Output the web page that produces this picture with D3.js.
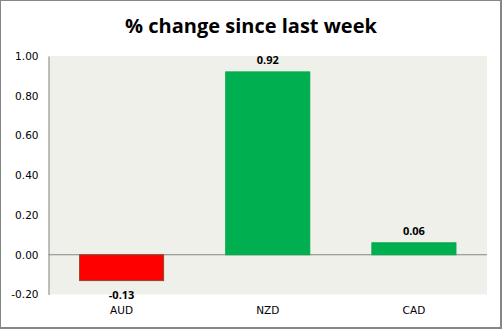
<!DOCTYPE html>
<html><head><meta charset="utf-8">
<script src="https://cdn.jsdelivr.net/npm/d3@7"></script>
<style>body{margin:0;background:#fff}svg{display:block}</style>
</head><body>
<script>
const categories = ["AUD", "NZD", "CAD"];
const values = [-0.13, 0.92, 0.06];
const yTicks = [-0.2, 0, 0.2, 0.4, 0.6, 0.8, 1.0];
const title = "% change since last week";

const W = 502, H = 329;
const m = {left: 48.5, right: 487, top: 56, bottom: 294.5};
const fmt = d3.formatLocale({decimal: ".", thousands: ",", grouping: [3], currency: ["", ""], minus: "-"}).format(".2f");
const svg = d3.select("body").append("svg").attr("width", W).attr("height", H);

svg.append("rect").attr("x", 0.5).attr("y", 0.5).attr("width", W - 2).attr("height", H - 2)
  .attr("fill", "#fff").attr("stroke", "#868686").attr("stroke-width", 1);
svg.append("rect").attr("x", W - 2).attr("y", 0).attr("width", 2).attr("height", H).attr("fill", "#868686");
svg.append("rect").attr("x", 0).attr("y", H - 2).attr("width", W).attr("height", 2).attr("fill", "#868686");

svg.append("text").attr("x", 251).attr("y", 33).attr("text-anchor", "middle")
  .attr("font-family", "'Open Sans', sans-serif").attr("font-weight", "bold").attr("font-size", 20)
  .attr("fill", "#000").text(title);

const x = d3.scaleBand().domain(categories).range([m.left, m.right]).paddingInner(0.425).paddingOuter(0.2125);
const y = d3.scaleLinear().domain([-0.2, 1.0]).range([m.bottom, m.top]);

svg.append("rect").attr("x", m.left).attr("y", m.top).attr("width", m.right - m.left).attr("height", m.bottom - m.top)
  .attr("fill", "#eff0e9");

const yAxis = svg.append("g").attr("transform", `translate(${m.left},0)`)
  .call(d3.axisLeft(y).tickValues(yTicks).tickFormat(fmt).tickSize(0).tickPadding(10));
yAxis.select(".domain").attr("stroke", "#868686");
yAxis.selectAll("text").attr("font-family", "'DejaVu Sans', Verdana, sans-serif").attr("font-size", 10.5).attr("fill", "#000");

svg.append("line").attr("x1", m.left).attr("x2", m.right).attr("y1", y(0)).attr("y2", y(0))
  .attr("stroke", "#868686").attr("stroke-width", 1);

svg.selectAll("rect.bar").data(values).enter().append("rect").attr("class", "bar")
  .attr("x", (d, i) => x(categories[i]))
  .attr("width", x.bandwidth())
  .attr("y", d => y(Math.max(0, d)))
  .attr("height", d => Math.abs(y(d) - y(0)))
  .attr("fill", d => d < 0 ? "#ff0000" : "#00b050")
  .attr("stroke", d => d < 0 ? "#8c4a2a" : "#00a84a").attr("stroke-width", 1);

svg.selectAll("text.lbl").data(values).enter().append("text").attr("class", "lbl")
  .attr("x", (d, i) => x(categories[i]) + x.bandwidth() / 2)
  .attr("y", d => d < 0 ? y(d) + 18 : y(d) - 8)
  .attr("text-anchor", "middle")
  .attr("font-family", "'Open Sans', sans-serif").attr("font-weight", "bold").attr("font-size", 11)
  .attr("fill", "#000").text(d => fmt(d));

const xAxis = svg.append("g").attr("transform", `translate(0,${m.bottom})`)
  .call(d3.axisBottom(x).tickSize(0).tickPadding(12));
xAxis.select(".domain").remove();
xAxis.selectAll("text").attr("font-family", "'DejaVu Sans', Verdana, sans-serif").attr("font-size", 10.5).attr("fill", "#000");
</script>
</body></html>
